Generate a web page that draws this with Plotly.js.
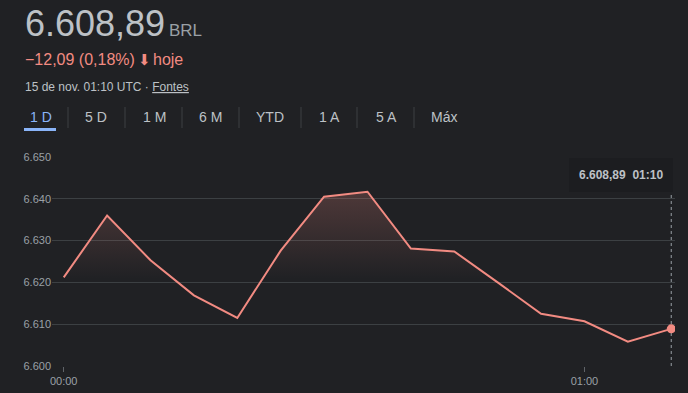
<!DOCTYPE html>
<html>
<head>
<meta charset="utf-8">
<script src="https://cdn.plot.ly/plotly-3.0.1.min.js"></script>
<style>
html,body{margin:0;padding:0;background:#202124;}
#chart{width:688px;height:393px;}
</style>
</head>
<body>
<div id="chart"></div>
<script>
// ---- data ----
const times = [
  '2024-11-15 00:00','2024-11-15 00:05','2024-11-15 00:10','2024-11-15 00:15',
  '2024-11-15 00:20','2024-11-15 00:25','2024-11-15 00:30','2024-11-15 00:35',
  '2024-11-15 00:40','2024-11-15 00:45','2024-11-15 00:50','2024-11-15 00:55',
  '2024-11-15 01:00','2024-11-15 01:05','2024-11-15 01:10'
];
const prices = [
  6621.2, 6636.0, 6625.3, 6616.9, 6611.5, 6627.6, 6640.5, 6641.7,
  6628.1, 6627.4, 6620.0, 6612.5, 6610.7, 6605.8, 6608.89
];
const previousClose = 6620.98;
const yTicks = [6600, 6610, 6620, 6630, 6640, 6650];
const xTickVals = ['2024-11-15 00:00', '2024-11-15 01:00'];
const xTickText = ['00:00', '01:00'];
const tabs = ['1 D', '5 D', '1 M', '6 M', 'YTD', '1 A', '5 A', 'Máx'];
const priceText = '6.608,89';
const currency = 'BRL';
const changeText = '−12,09 (0,18%)';
const dateText = '15 de nov. 01:10 UTC · ';
const sourcesText = 'Fontes';
const tooltipText = '6.608,89\u00a0\u00a001:10';

// ---- layout geometry ----
const W = 688, H = 393;
const M = {l: 52, r: 13, t: 157, b: 27};
const pw = W - M.l - M.r, ph = H - M.t - M.b;
const px = x => (x - M.l) / pw;
const py = y => (H - M.b - y) / ph;

const last = times.length - 1;
const maxPrice = Math.max(...prices);

const FONT = 'Arial, "Liberation Sans", Roboto, sans-serif';
const RED = '#f28b82';

const traces = [
  {
    x: [times[0], times[last]],
    y: [previousClose, previousClose],
    mode: 'lines',
    line: {width: 0, color: 'rgba(0,0,0,0)'},
    hoverinfo: 'skip',
    showlegend: false
  },
  {
    x: times,
    y: prices,
    mode: 'lines',
    line: {color: RED, width: 2},
    fill: 'tonexty',
    fillgradient: {
      type: 'vertical',
      start: previousClose,
      stop: maxPrice,
      colorscale: [[0, 'rgba(242,139,130,0)'], [1, 'rgba(242,139,130,0.22)']]
    },
    hoverinfo: 'skip',
    showlegend: false
  },
  {
    x: [times[last]],
    y: [prices[last]],
    mode: 'markers',
    marker: {color: RED, size: 9},
    hoverinfo: 'skip',
    showlegend: false
  }
];

const annotations = [];
const shapes = [];
function txt(text, x, y, size, color, anchor, extra) {
  annotations.push(Object.assign({
    text: text, xref: 'paper', yref: 'paper', x: px(x), y: py(y),
    xanchor: anchor || 'left', yanchor: 'middle', showarrow: false,
    font: {family: FONT, size: size, color: color}
  }, extra || {}));
}
txt(priceText, 23, 24, 36, '#bdc1c6');
txt(currency, 167, 31, 17, '#9aa0a6');
txt(changeText, 23, 60, 16, RED);
txt('<span style="font-family:\'DejaVu Sans\';font-size:15px">⬇</span>', 136, 60, 15, RED);
txt('hoje', 151, 60, 16, RED);
txt(dateText + '<span style="text-decoration:underline">' + sourcesText + '</span>', 23, 87, 12, '#bdc1c6');

const tabCenters = [41, 96, 154, 210, 270, 329, 386, 444];
tabs.forEach((t, i) => {
  txt(t, tabCenters[i], 117, 14, i === 0 ? '#8ab4f8' : '#bdc1c6', 'center');
});
[68, 125, 182, 239, 301, 357, 414].forEach(x => {
  shapes.push({type: 'line', xref: 'paper', yref: 'paper',
    x0: px(x), x1: px(x), y0: py(107), y1: py(128),
    line: {color: '#3c4043', width: 1}});
});
shapes.push({type: 'rect', xref: 'paper', yref: 'paper',
  x0: px(24), x1: px(56), y0: py(128), y1: py(131),
  fillcolor: '#8ab4f8', line: {width: 0}});

// crosshair and tooltip
shapes.push({type: 'line', xref: 'x', yref: 'paper',
  x0: times[last], x1: times[last], y0: 0, y1: py(160),
  line: {color: '#9aa0a6', width: 1, dash: 'dot'}, layer: 'below'});
annotations.push({
  text: '<b>' + tooltipText + '</b>', xref: 'x', yref: 'paper',
  x: times[last], y: py(175), xanchor: 'right', yanchor: 'middle', xshift: 2,
  showarrow: false, bgcolor: '#1c1d20', borderpad: 10, borderwidth: 0,
  font: {family: FONT, size: 12, color: '#bdc1c6'}
});

const layout = {
  width: W, height: H,
  margin: M,
  paper_bgcolor: '#202124',
  plot_bgcolor: '#202124',
  separators: ',.',
  showlegend: false,
  xaxis: {
    type: 'date',
    range: ['2024-11-14 23:58:39', '2024-11-15 01:10:26'],
    tickvals: xTickVals, ticktext: xTickText,
    ticks: 'outside', ticklen: 5, tickcolor: '#5f6368', tickwidth: 1,
    showgrid: false, zeroline: false, showline: false,
    tickfont: {family: FONT, size: 11, color: '#9aa0a6'},
    fixedrange: true
  },
  yaxis: {
    range: [6600, 6650],
    tickvals: yTicks, tickformat: ',d',
    showgrid: true, gridcolor: '#3c4043', gridwidth: 1,
    zeroline: false, showline: false, ticks: '',
    tickfont: {family: FONT, size: 11, color: '#9aa0a6'},
    fixedrange: true
  },
  shapes: shapes,
  annotations: annotations
};

Plotly.newPlot('chart', traces, layout, {displayModeBar: false, staticPlot: true});
</script>
</body>
</html>
